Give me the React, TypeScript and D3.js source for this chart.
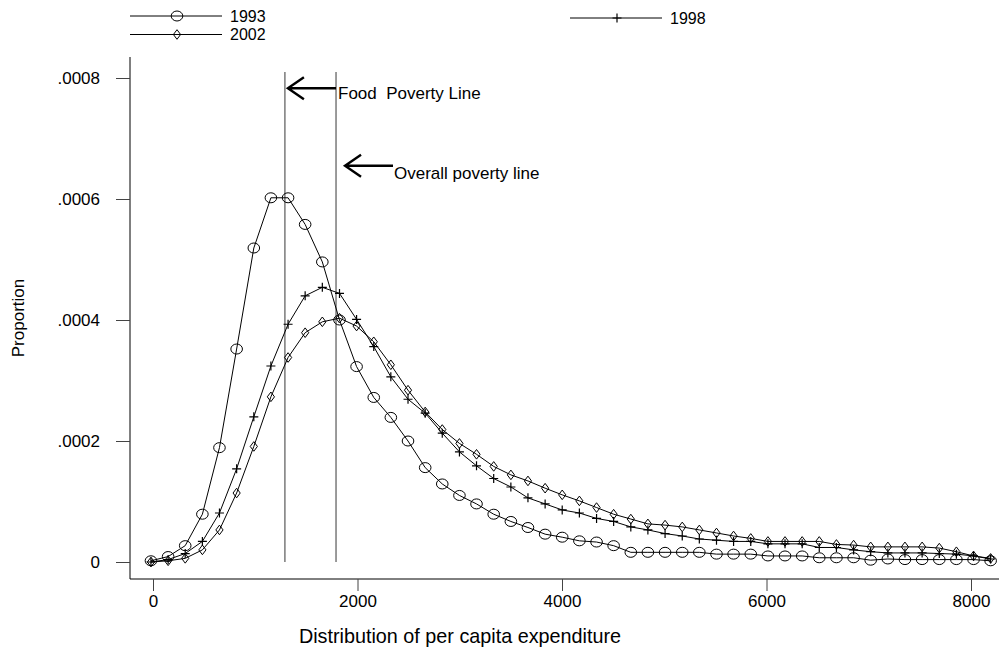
import { useEffect, useRef } from "react";
import * as d3 from "d3";

// grille des dépenses (points de l'estimation de densité)
const expenditure = [
  -20, 148, 315, 483, 650, 818, 986, 1153, 1321, 1488,
  1656, 1824, 1991, 2159, 2326, 2494, 2662, 2829, 2997, 3164,
  3332, 3500, 3667, 3835, 4002, 4170, 4338, 4505, 4673, 4840,
  5008, 5176, 5343, 5511, 5678, 5846, 6014, 6181, 6349, 6516,
  6684, 6852, 7019, 7187, 7354, 7522, 7690, 7857, 8025, 8192,
];

const density1993 = [
  0.000002, 0.000009, 0.000027, 0.000079, 0.000189, 0.000352, 0.000519, 0.000602, 0.000602, 0.000558,
  0.000496, 0.000400, 0.000323, 0.000272, 0.000239, 0.000200, 0.000156, 0.000129, 0.000110, 0.000096,
  0.000079, 0.000067, 0.000057, 0.000046, 0.000041, 0.000035, 0.000033, 0.000027, 0.000016, 0.000016,
  0.000016, 0.000016, 0.000016, 0.000013, 0.000013, 0.000013, 0.000010, 0.000010, 0.000010, 0.000007,
  0.000007, 0.000007, 0.000003, 0.000005, 0.000004, 0.000004, 0.000004, 0.000004, 0.000004, 0.000002,
];

const density1998 = [
  0.000000, 0.000004, 0.000014, 0.000034, 0.000081, 0.000154, 0.000240, 0.000324, 0.000393, 0.000440,
  0.000454, 0.000444, 0.000401, 0.000356, 0.000306, 0.000269, 0.000246, 0.000213, 0.000182, 0.000159,
  0.000138, 0.000124, 0.000106, 0.000096, 0.000086, 0.000081, 0.000072, 0.000067, 0.000058, 0.000053,
  0.000047, 0.000043, 0.000038, 0.000036, 0.000034, 0.000034, 0.000030, 0.000030, 0.000030, 0.000024,
  0.000024, 0.000020, 0.000017, 0.000015, 0.000015, 0.000015, 0.000014, 0.000013, 0.000010, 0.000005,
];

const density2002 = [
  0.000000, 0.000002, 0.000006, 0.000020, 0.000053, 0.000114, 0.000191, 0.000273, 0.000338, 0.000379,
  0.000397, 0.000403, 0.000390, 0.000364, 0.000326, 0.000284, 0.000248, 0.000219, 0.000196, 0.000178,
  0.000158, 0.000144, 0.000134, 0.000122, 0.000111, 0.000101, 0.000090, 0.000079, 0.000071, 0.000063,
  0.000061, 0.000058, 0.000053, 0.000048, 0.000043, 0.000039, 0.000034, 0.000034, 0.000034, 0.000034,
  0.000029, 0.000028, 0.000025, 0.000025, 0.000025, 0.000025, 0.000023, 0.000017, 0.000010, 0.000006,
];

const xTicks = [0, 2000, 4000, 6000, 8000];
const yTicks = [0, 0.0002, 0.0004, 0.0006, 0.0008];

// seuils de pauvreté
const foodPovertyLine = 1290;
const overallPovertyLine = 1790;

const font = "'Liberation Sans', Arial, Helvetica, sans-serif";
const width = 999;
const height = 653;

type Marker = "circle" | "plus" | "diamond";

const drawMarker = (g: d3.Selection<SVGGElement, unknown, null, undefined>, type: Marker, cx: number, cy: number) => {
  if (type === "circle") {
    g.append("ellipse")
      .attr("cx", cx).attr("cy", cy)
      .attr("rx", 5.8).attr("ry", 5)
      .attr("fill", "none").attr("stroke", "#000").attr("stroke-width", 1);
  } else if (type === "diamond") {
    g.append("path")
      .attr("d", `M${cx},${cy - 4.8}L${cx + 3.6},${cy}L${cx},${cy + 4.8}L${cx - 3.6},${cy}Z`)
      .attr("fill", "none").attr("stroke", "#000").attr("stroke-width", 1);
  } else {
    g.append("path")
      .attr("d", `M${cx - 4.5},${cy}H${cx + 4.5}M${cx},${cy - 4.5}V${cy + 4.5}`)
      .attr("fill", "none").attr("stroke", "#000").attr("stroke-width", 1.2);
  }
};

const drawChart = (node: SVGSVGElement) => {
  const svg = d3.select(node);
  svg.selectAll("*").remove();

  const x = d3.scaleLinear().domain([0, 8000]).range([153, 971]);
  const y = d3.scaleLinear().domain([0, 0.0008]).range([562, 78]);

  const plotLeft = 130;
  const plotBottom = 579;

  // axes
  svg.append("line")
    .attr("x1", plotLeft).attr("x2", plotLeft)
    .attr("y1", 57).attr("y2", plotBottom)
    .attr("stroke", "#000");
  svg.append("line")
    .attr("x1", plotLeft).attr("x2", width)
    .attr("y1", plotBottom).attr("y2", plotBottom)
    .attr("stroke", "#000");

  const yAxis = svg.append("g")
    .attr("transform", `translate(${plotLeft},0)`)
    .call(
      d3.axisLeft(y)
        .tickValues(yTicks)
        .tickSize(14)
        .tickPadding(16)
        .tickFormat((d) => (+d === 0 ? "0" : (+d).toFixed(4).replace(/^0/, "")))
    );
  yAxis.select(".domain").remove();

  const xAxis = svg.append("g")
    .attr("transform", `translate(0,${plotBottom})`)
    .call(d3.axisBottom(x).tickValues(xTicks).tickSize(12).tickPadding(4).tickFormat(d3.format("d")));
  xAxis.select(".domain").remove();

  svg.selectAll(".tick line").attr("stroke", "#444");
  svg.selectAll(".tick text")
    .attr("font-family", font)
    .attr("font-size", 17)
    .attr("fill", "#000");

  // titres des axes
  svg.append("text")
    .attr("transform", `translate(24,318) rotate(-90)`)
    .attr("text-anchor", "middle")
    .attr("font-family", font)
    .attr("font-size", 17)
    .text("Proportion");

  svg.append("text")
    .attr("x", 460).attr("y", 643)
    .attr("text-anchor", "middle")
    .attr("font-family", font)
    .attr("font-size", 19.8)
    .text("Distribution of per capita expenditure");

  // lignes de pauvreté
  [foodPovertyLine, overallPovertyLine].forEach((v) => {
    svg.append("line")
      .attr("x1", x(v)).attr("x2", x(v))
      .attr("y1", y(0)).attr("y2", y(0.00081))
      .attr("stroke", "#707070").attr("stroke-width", 1.4);
  });

  const arrow = (fromX: number, toX: number, yv: number) => {
    const py = y(yv);
    svg.append("path")
      .attr("d", `M${fromX},${py}H${toX}M${toX + 16},${py - 11}L${toX},${py}L${toX + 16},${py + 11}`)
      .attr("fill", "none")
      .attr("stroke", "#000")
      .attr("stroke-width", 2.4);
  };

  arrow(x(overallPovertyLine), x(foodPovertyLine) + 3, 0.000783);
  svg.append("text")
    .attr("x", x(overallPovertyLine) + 2).attr("y", y(0.000783) + 11)
    .attr("font-family", font).attr("font-size", 17)
    .style("white-space", "pre")
    .text("Food  Poverty Line");

  arrow(x(overallPovertyLine) + 57, x(overallPovertyLine) + 9, 0.000655);
  svg.append("text")
    .attr("x", x(overallPovertyLine) + 58).attr("y", y(0.000655) + 13)
    .attr("font-family", font).attr("font-size", 17)
    .text("Overall poverty line");

  // courbes de densité
  const series: { name: string; values: number[]; marker: Marker }[] = [
    { name: "1993", values: density1993, marker: "circle" },
    { name: "1998", values: density1998, marker: "plus" },
    { name: "2002", values: density2002, marker: "diamond" },
  ];

  const line = d3.line<number>()
    .x((_, i) => x(expenditure[i]))
    .y((d) => y(d));

  series.forEach((s) => {
    const g = svg.append("g");
    g.append("path")
      .attr("d", line(s.values))
      .attr("fill", "none")
      .attr("stroke", "#000")
      .attr("stroke-width", 1);
    s.values.forEach((v, i) => drawMarker(g, s.marker, x(expenditure[i]), y(v)));
  });

  // légende
  const legend = [
    { name: "1993", marker: "circle" as Marker, lx: 130, ly: 16 },
    { name: "1998", marker: "plus" as Marker, lx: 570, ly: 18 },
    { name: "2002", marker: "diamond" as Marker, lx: 130, ly: 34.5 },
  ];
  legend.forEach((l) => {
    const g = svg.append("g");
    g.append("line")
      .attr("x1", l.lx).attr("x2", l.lx + 92)
      .attr("y1", l.ly).attr("y2", l.ly)
      .attr("stroke", "#000");
    drawMarker(g, l.marker, l.lx + 47, l.ly);
    g.append("text")
      .attr("x", l.lx + 100).attr("y", l.ly + 5.5)
      .attr("font-family", font).attr("font-size", 16)
      .text(l.name);
  });
};

export default function App() {
  const ref = useRef<SVGSVGElement>(null);

  useEffect(() => {
    if (ref.current) drawChart(ref.current);
  }, []);

  return (
    <div style={{ position: "absolute", left: 0, top: 0 }}>
      <svg ref={ref} width={width} height={height} style={{ display: "block", background: "#fff" }} />
    </div>
  );
}
